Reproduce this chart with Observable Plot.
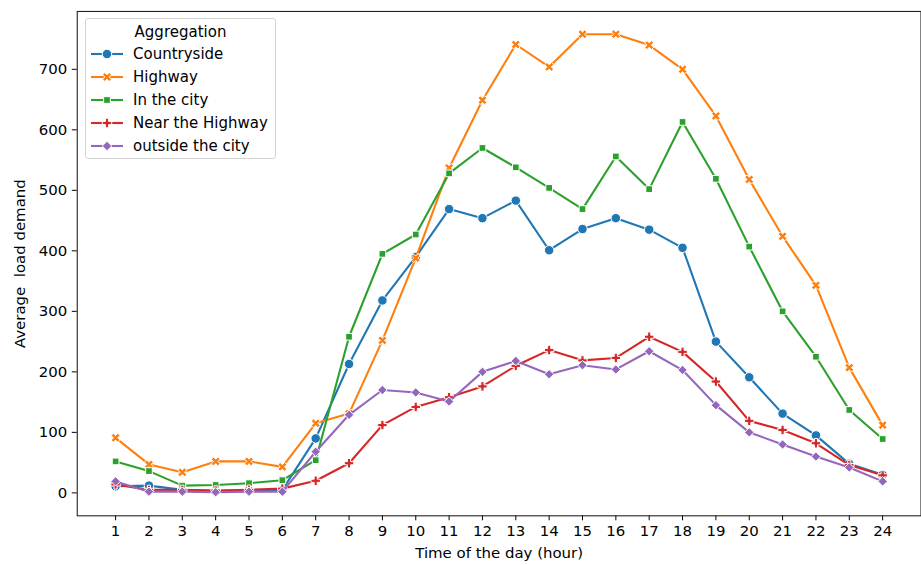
<!DOCTYPE html>
<html><head><meta charset="utf-8">
<script src="https://cdn.jsdelivr.net/npm/d3@7"></script>
<script src="https://cdn.jsdelivr.net/npm/@observablehq/plot@0.6"></script>
<style>
html,body{margin:0;padding:0;background:#fff;overflow:hidden;}
#wrap{position:relative;width:921px;height:565px;overflow:hidden;font-family:"DejaVu Sans",sans-serif;}
#wrap svg text{white-space:pre;}
.legend{position:absolute;left:85px;top:18px;width:191px;height:141px;border:1px solid #d4d4d4;border-radius:3px;background:rgba(255,255,255,0.8);font-size:15px;color:#000;box-sizing:border-box;}
.legend .title{position:absolute;left:0;width:100%;text-align:center;top:3px;line-height:20px;}
.legend .row{position:absolute;left:4px;height:20px;line-height:20px;white-space:nowrap;}
.legend .row svg{position:absolute;left:0;top:0;}
.legend .row span{position:absolute;left:43px;top:0;}
</style></head><body><div id="wrap"></div>
<script>
const hours = [1,2,3,4,5,6,7,8,9,10,11,12,13,14,15,16,17,18,19,20,21,22,23,24];
const hourTicks = [1,2,3,4,5,6,7,8,9,10,11,12,13,14,15,16,17,18,19,20,21,22,23,24];
const yTicks = [0,100,200,300,400,500,600,700];
const seriesNames = ["Countryside","Highway","In the city","Near the Highway","outside the city"];
const seriesColors = ["#1f77b4","#ff7f0e","#2ca02c","#d62728","#9467bd"];
const countryside = [11,12,5,3,4,5,90,213,318,390,469,454,483,401,436,454,435,405,250,191,131,95,48,30];
const highway = [91,47,34,52,52,43,115,131,252,388,537,649,741,704,758,758,740,700,623,518,424,343,207,112];
const inTheCity = [52,36,12,13,16,21,54,258,395,427,528,570,538,504,469,556,502,613,519,407,300,225,137,89];
const nearHighway = [14,5,5,4,5,7,20,49,112,142,158,176,210,236,219,223,258,233,184,119,104,82,46,29];
const outsideCity = [19,2,2,1,2,2,68,129,170,166,151,200,218,196,211,204,234,203,145,100,80,60,42,19];
const seriesValues = [countryside, highway, inTheCity, nearHighway, outsideCity];

const MS = 9.5;
function plusPts(){const a=MS/2,w=MS/6;return [[-w,-a],[w,-a],[w,-w],[a,-w],[a,w],[w,w],[w,a],[-w,a],[-w,w],[-a,w],[-a,-w],[-w,-w]];}
function poly(ctx,pts){ctx.moveTo(pts[0][0],pts[0][1]);for(let i=1;i<pts.length;i++)ctx.lineTo(pts[i][0],pts[i][1]);ctx.closePath();}
const symCircle={draw(ctx){const r=MS/2;ctx.moveTo(r,0);ctx.arc(0,0,r,0,2*Math.PI);ctx.closePath();}};
const symX={draw(ctx){const s=Math.SQRT1_2;poly(ctx,plusPts().map(([x,y])=>[(x-y)*s,(x+y)*s]));}};
const symSquare={draw(ctx){const h=MS/(2*Math.SQRT2);poly(ctx,[[-h,-h],[h,-h],[h,h],[-h,h]]);}};
const symPlus={draw(ctx){poly(ctx,plusPts());}};
const symDiamond={draw(ctx){const r=MS/2;poly(ctx,[[0,-r],[r,0],[0,r],[-r,0]]);}};
const seriesSymbols=[symCircle,symX,symSquare,symPlus,symDiamond];

const marks=[];
seriesNames.forEach((name,k)=>{
  const rows=hours.map((h,i)=>({hour:h,value:seriesValues[k][i],series:name}));
  marks.push(Plot.line(rows,{x:"hour",y:"value",stroke:seriesColors[k],strokeWidth:2.1}));
  marks.push(Plot.dot(rows,{x:"hour",y:"value",symbol:()=>seriesSymbols[k],fill:seriesColors[k],stroke:"white",strokeWidth:1,r:4}));
});

const chart=Plot.plot({
  width:924,height:565,
  marginLeft:77,marginRight:0.5,marginTop:11,marginBottom:48,
  style:{fontFamily:"DejaVu Sans",fontSize:"15px",color:"#000",background:"white",overflow:"visible"},
  symbol:{type:"identity"},
  x:{domain:[-0.15,25.15],ticks:hourTicks,tickFormat:d=>String(d),tickSize:5,tickPadding:5,label:"Time of the day (hour)",labelAnchor:"center",labelArrow:"none",labelOffset:42},
  y:{domain:[-37.9,795.6],ticks:yTicks,tickFormat:d=>String(d),tickSize:5,tickPadding:5,label:"Average  load demand",labelAnchor:"center",labelArrow:"none",labelOffset:63},
  marks:[Plot.frame({stroke:"#222",strokeWidth:1.1}),...marks]
});
const wrap=document.getElementById("wrap");
wrap.appendChild(chart);

// legend
const lg=document.createElement("div");lg.className="legend";
const t=document.createElement("div");t.className="title";t.textContent="Aggregation";lg.appendChild(t);
seriesNames.forEach((name,k)=>{
  const row=document.createElement("div");row.className="row";row.style.top=(25+k*23)+"px";
  const svg=d3.create("svg").attr("width",36).attr("height",20);
  svg.append("line").attr("x1",1).attr("x2",33).attr("y1",10).attr("y2",10).attr("stroke",seriesColors[k]).attr("stroke-width",2.1);
  svg.append("path").attr("transform","translate(17,10)").attr("d",d3.symbol(seriesSymbols[k],64)()).attr("fill",seriesColors[k]).attr("stroke","white").attr("stroke-width",1);
  row.appendChild(svg.node());
  const sp=document.createElement("span");sp.textContent=name;row.appendChild(sp);
  lg.appendChild(row);
});
wrap.appendChild(lg);
</script></body></html>
